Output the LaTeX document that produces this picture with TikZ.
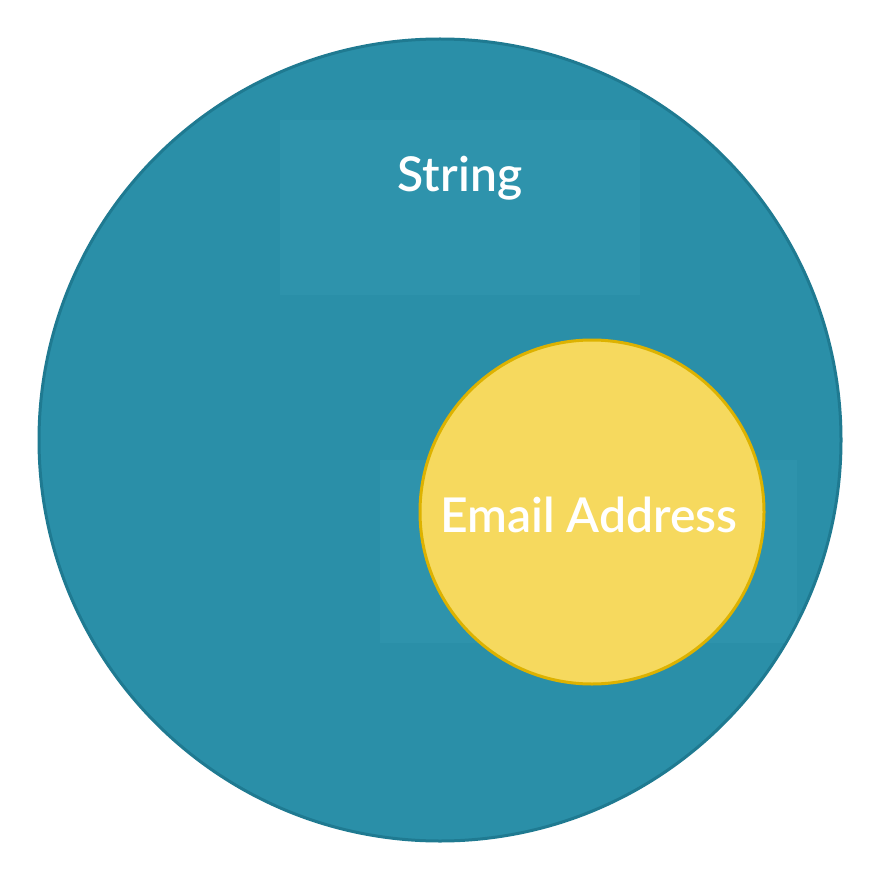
\documentclass[tikz,border=0pt]{standalone}
\usepackage{fontspec}
\setmainfont{Lato}
\newfontfamily\labelfont{Lato Semibold}
\definecolor{tealfill}{HTML}{2A8FA8}
\definecolor{tealline}{HTML}{1F7A91}
\definecolor{tealrect}{HTML}{2E93AC}
\definecolor{yelfill}{HTML}{F6D95E}
\definecolor{yelline}{HTML}{DDB200}
\begin{document}
\begin{tikzpicture}[x=1pt,y=-1pt,
  setlabel/.style={text=white,font=\labelfont\fontsize{48}{56}\selectfont,inner sep=0pt,anchor=base}]
\useasboundingbox (0,0) rectangle (882,882);
\fill[white] (0,0) rectangle (882,882);
\node[circle,draw=tealline,fill=tealfill,line width=3pt,minimum size=802pt,inner sep=0pt] (str) at (440,440) {};
\begin{scope}
\clip (440,440) circle (399.5);
\fill[tealrect] (280,120) rectangle (640,295);
\fill[tealrect] (380,460) rectangle (797,643);
\end{scope}
\node[circle,draw=yelline,fill=yelfill,line width=3pt,minimum size=344pt,inner sep=0pt] (email) at (592,512) {};
\node[setlabel] (strlabel) at (460,192) {String};
\node[setlabel] (emaillabel) at (589,532) {Email Address};
\end{tikzpicture}
\end{document}
